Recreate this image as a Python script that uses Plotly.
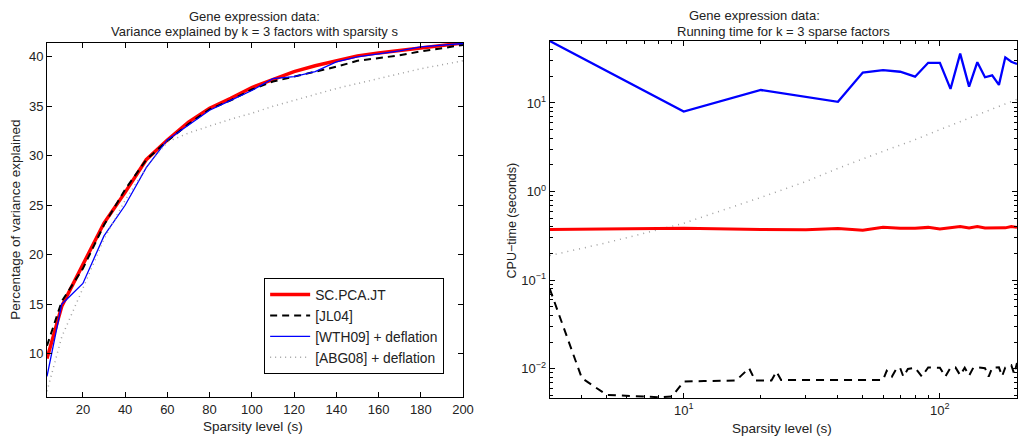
import plotly.graph_objects as go

W, H = 1029, 438

# ---------------- Left panel data: variance explained ----------------
s_left = [3, 10, 20, 30, 40, 50, 60, 70, 80, 90, 100, 110, 120, 130, 140, 150, 160, 170, 180, 190, 200]
var_scpca = [9.5, 14.8, 19.0, 23.2, 26.3, 29.6, 31.6, 33.4, 34.8, 35.8, 36.9, 37.7, 38.5, 39.1, 39.6, 40.1, 40.4, 40.65, 40.95, 41.2, 41.4]
var_jl04 = [10.8, 15.3, 18.6, 23.0, 26.6, 29.6, 31.5, 33.2, 34.7, 35.6, 36.7, 37.5, 38.0, 38.5, 39.0, 39.6, 39.9, 40.15, 40.55, 40.9, 41.2]
var_wth09 = [7.7, 15.0, 17.1, 21.9, 25.0, 28.8, 31.6, 33.1, 34.6, 35.6, 36.6, 37.8, 38.0, 38.5, 39.5, 40.0, 40.3, 40.6, 41.0, 41.2, 41.35]
var_abg08 = [6.2, 11.7, 16.6, 21.6, 25.5, 28.8, 31.4, 32.3, 33.0, 33.7, 34.3, 35.0, 35.6, 36.2, 36.8, 37.3, 37.8, 38.3, 38.8, 39.2, 39.6]

# ---------------- Right panel data: CPU time ----------------
s_red = [3, 10, 20, 30, 40, 50, 60, 70, 80, 90, 100, 110, 120, 130, 140, 150, 160, 170, 180, 190, 200]
t_scpca = [0.373, 0.385, 0.375, 0.372, 0.383, 0.366, 0.396, 0.386, 0.386, 0.395, 0.379, 0.39, 0.405, 0.389, 0.403, 0.389, 0.392, 0.392, 0.39, 0.405, 0.395]

s_blue = [3, 10, 20, 40, 50, 60, 70, 80, 90, 100, 110, 120, 130, 140, 150, 160, 170, 180, 190, 200]
t_wth09 = [50, 8.0, 14.0, 10.3, 22, 23.5, 22.5, 19.8, 28.4, 28.4, 14.4, 36, 15.3, 28.8, 19.5, 20.5, 16, 32.7, 29.2, 27.5]

s_black = [3, 4, 5, 6, 7, 8, 9, 10, 12, 14, 16, 18, 19, 20, 22, 23, 24, 30, 40, 50, 58,
           60, 62, 65, 68, 70, 72, 75, 80, 85, 90, 95, 100, 105, 110, 115, 120, 125, 130,
           135, 140, 150, 155, 160, 170, 175, 180, 190, 195, 200]
t_jl04 = [0.08, 0.0079, 0.0051, 0.0050, 0.0049, 0.0048, 0.0049, 0.0072, 0.0073, 0.0073, 0.0074, 0.0102, 0.0074, 0.0074, 0.0074, 0.0093, 0.0075, 0.0075, 0.0075, 0.0075, 0.0075,
          0.0075, 0.0095, 0.0082, 0.0103, 0.0102, 0.0082, 0.0100, 0.0103, 0.0082, 0.0104, 0.0103, 0.0103, 0.0082, 0.0103, 0.0104, 0.0085, 0.0103, 0.0084,
          0.0103, 0.0104, 0.0102, 0.0082, 0.0103, 0.0104, 0.0083, 0.0104, 0.0110, 0.0088, 0.0117]

s_gray = [3, 5, 10, 20, 30, 40, 60, 80, 100, 150, 200]
t_abg08 = [0.19, 0.265, 0.44, 0.86, 1.3, 1.83, 2.85, 3.85, 5.0, 7.9, 11.0]

# tick labels
left_xticks = [20, 40, 60, 80, 100, 120, 140, 160, 180, 200]
left_yticks = [10, 15, 20, 25, 30, 35, 40]
right_xticks = [10, 100]
right_xticktext = ["10<sup>1</sup>", "10<sup>2</sup>"]
right_yticks = [0.01, 0.1, 1, 10]
right_yticktext = ["10<sup>−2</sup>", "10<sup>−1</sup>", "10<sup>0</sup>", "10<sup>1</sup>"]

legend_names = ["SC.PCA.JT", "[JL04]", "[WTH09] + deflation", "[ABG08] + deflation"]

RED, BLACK, BLUE, GRAY = "#ff0000", "#000000", "#0000ff", "#a0a0a0"
FONT = "Liberation Sans, Arial, Helvetica, sans-serif"


def px(xp):
    return xp / W


def py(yp):
    return 1 - yp / H


fig = go.Figure()

# left panel
fig.add_trace(go.Scatter(x=s_left, y=var_scpca, mode="lines", name=legend_names[0],
                         line=dict(color=RED, width=3.5), xaxis="x", yaxis="y"))
fig.add_trace(go.Scatter(x=s_left, y=var_jl04, mode="lines", name=legend_names[1],
                         line=dict(color=BLACK, width=2, dash="7px,5px"), xaxis="x", yaxis="y"))
fig.add_trace(go.Scatter(x=s_left, y=var_wth09, mode="lines", name=legend_names[2],
                         line=dict(color=BLUE, width=1.3), xaxis="x", yaxis="y"))
fig.add_trace(go.Scatter(x=s_left, y=var_abg08, mode="lines", name=legend_names[3],
                         line=dict(color=GRAY, width=1.5, dash="1px,4px"), xaxis="x", yaxis="y"))

# right panel
fig.add_trace(go.Scatter(x=s_gray, y=t_abg08, mode="lines", showlegend=False,
                         line=dict(color=GRAY, width=1.5, dash="1px,5px"), xaxis="x2", yaxis="y2"))
fig.add_trace(go.Scatter(x=s_blue, y=t_wth09, mode="lines", showlegend=False,
                         line=dict(color=BLUE, width=2.3), xaxis="x2", yaxis="y2"))
fig.add_trace(go.Scatter(x=s_red, y=t_scpca, mode="lines", showlegend=False,
                         line=dict(color=RED, width=3), xaxis="x2", yaxis="y2"))
fig.add_trace(go.Scatter(x=s_black, y=t_jl04, mode="lines", showlegend=False,
                         line=dict(color=BLACK, width=2, dash="8px,6px"), xaxis="x2", yaxis="y2"))

axis_common = dict(showline=True, linecolor="black", linewidth=1, mirror="ticks",
                   ticks="inside", ticklen=5, tickcolor="black", showgrid=False, zeroline=False,
                   tickfont=dict(family=FONT, size=13, color="#222"))

fig.update_layout(
    width=W, height=H,
    margin=dict(l=0, r=0, t=0, b=0),
    paper_bgcolor="white", plot_bgcolor="white",
    font=dict(family=FONT, size=13, color="#222"),
    xaxis=dict(domain=[px(47.5), px(468)], range=[3, 200], tickvals=left_xticks, anchor="y", **axis_common),
    yaxis=dict(domain=[py(397), py(42.5)], range=[5.62, 41.45], tickvals=left_yticks, anchor="x", **axis_common),
    xaxis2=dict(domain=[px(555.7), px(1028)], type="log", range=[0.4771, 2.30103],
                tickvals=right_xticks, ticktext=right_xticktext, anchor="y2",
                minor=dict(ticks="inside", ticklen=3, tickcolor="black",
                           tickvals=[4, 5, 6, 7, 8, 9, 20, 30, 40, 50, 60, 70, 80, 90, 200]),
                **axis_common),
    yaxis2=dict(domain=[py(398), py(41)], type="log", range=[-2.328, 1.699],
                tickvals=right_yticks, ticktext=right_yticktext, anchor="x2",
                minor=dict(ticks="inside", ticklen=3, tickcolor="black",
                           tickvals=[0.005, 0.006, 0.007, 0.008, 0.009, 0.02, 0.03, 0.04, 0.05, 0.06, 0.07, 0.08, 0.09,
                                     0.2, 0.3, 0.4, 0.5, 0.6, 0.7, 0.8, 0.9, 2, 3, 4, 5, 6, 7, 8, 9, 20, 30, 40]),
                **axis_common),
    legend=dict(x=px(267), y=py(278), xanchor="left", yanchor="top",
                bordercolor="black", borderwidth=1, bgcolor="white", itemwidth=40,
                font=dict(family=FONT, size=13.8, color="#222"), tracegroupgap=0),
)

ann = []


def add_text(text, x, y, size=12, angle=0):
    ann.append(dict(text=text, x=px(x), y=py(y), xref="paper", yref="paper",
                    showarrow=False, xanchor="center", yanchor="middle", textangle=angle,
                    font=dict(family=FONT, size=size, color="#222")))


add_text("Gene expression data:", 257, 16, size=13)
add_text("Variance explained by k = 3 factors with sparsity s", 257, 31, size=13)
add_text("Gene expression data:", 763, 15, size=13)
add_text("Running time for k = 3 sparse factors", 792, 31, size=13)
add_text("Sparsity level (s)", 256, 426, size=13.5)
add_text("Sparsity level (s)", 790, 428, size=13.5)
add_text("Percentage of variance explained", 15, 220, size=13.5, angle=-90)
add_text("CPU−time (seconds)", 518, 220, size=12.5, angle=-90)
fig.update_layout(annotations=ann)

fig.write_html("out.html",
               config={"displayModeBar": False},
               post_script="document.body.style.margin='0';document.body.style.overflow='hidden';")
